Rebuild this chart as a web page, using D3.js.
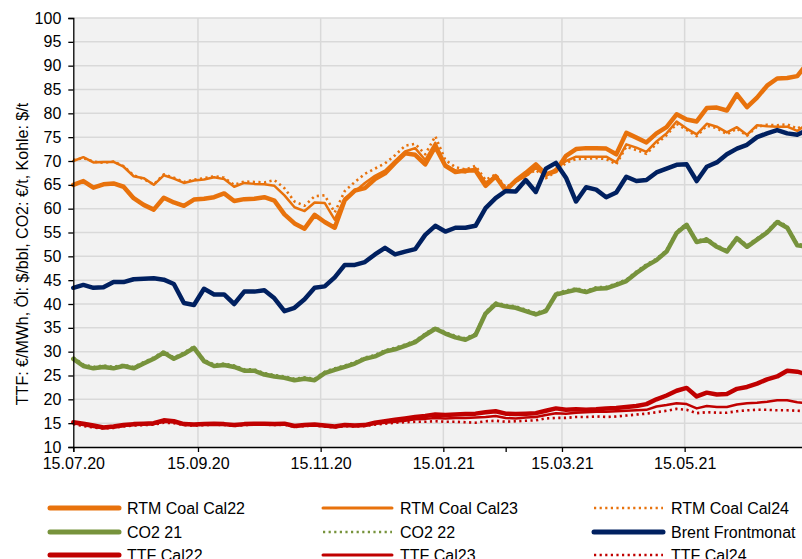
<!DOCTYPE html>
<html>
<head>
<meta charset="utf-8">
<script src="https://cdn.jsdelivr.net/npm/d3@7"></script>
<style>
  html, body { margin: 0; padding: 0; background: #fff; }
  svg { display: block; font-family: "Liberation Sans", Arial, sans-serif; }
</style>
</head>
<body>
<svg id="chart" width="802" height="559"></svg>
<script>
// ---- data (5-day grid starting 15.07.2020) ----
const startDate = new Date(2020, 6, 15);
const stepDays = 5;

const rtmCal22 = [65,65.8,64.4,65.1,65.3,64.6,62.2,60.8,59.8,62.3,61.3,60.6,61.9,62.1,62.4,63.2,61.6,62,62.1,62.4,61.7,58.8,56.9,55.8,58.7,57.2,56,61.8,63.8,64.3,66.2,67.4,69.6,71.6,71.3,69.3,73,69,67.7,68,68,64.8,66.8,63.8,65.9,67.5,69.3,67.2,67.9,71.1,72.5,72.7,72.7,72.6,71.4,75.9,74.9,73.9,75.8,77.1,79.8,78.7,78.3,81.1,81.2,80.6,84,81.3,83.3,85.8,87.3,87.4,87.8,90.5];
const rtmCal23 = [70,70.8,69.7,69.8,69.8,68.8,66.8,66.4,65,67,66.3,65.4,65.9,66.1,66.6,66.2,64.6,65.4,65.2,65.1,64.8,62.8,60.3,59.5,61.3,61.2,57.7,62.2,63.6,65.4,66.9,68,70,72,72.7,70.2,73.8,69.2,68,67.6,68.5,65.5,66.8,64.2,65.6,66.8,68.5,66.8,68.4,70,70.9,70.9,70.9,70.9,69.7,73.5,72.8,71.9,74.1,75.8,78.3,76.8,75.6,77.8,77.2,76,77.1,75.5,77.5,77.3,77.2,77.2,76.3,77.8];
const rtmCal24 = [70.2,70.6,69.9,69.6,69.9,68.9,67,66.2,65.1,67.2,66.5,65.6,66.1,66.4,66.8,66.5,65,65.7,65.6,65.5,66,64.3,61.5,60.6,62.6,62.8,59.2,63.7,65.6,67.3,68.4,69.5,71.2,73.2,73.6,71.4,75.2,70.2,68.7,68.2,69,66,67.2,64.5,65.7,66.9,68.1,66.4,67.8,69.6,70.4,70.5,70.6,70.4,69.3,73,72.3,71.5,73.6,75.4,77.8,76.5,75.2,77.4,76.9,75.6,76.8,75.3,77.2,77.6,77.5,77.7,76.8,78];
const co2_21 = [28.5,27,26.5,26.8,26.5,27,26.5,27.5,28.5,29.8,28.5,29.5,30.8,28,27,27.2,26.8,26,26,25.2,24.8,24.5,24,24.3,24,25.5,26.2,26.8,27.5,28.5,29,30,30.5,31.2,32,33.5,34.8,33.8,33,32.5,33.5,38,40,39.5,39.2,38.5,37.8,38.5,42,42.5,43,42.5,43.2,43.3,44,44.8,46.5,48,49.2,51,54.9,56.6,53,53.5,52,51,53.8,52,53.5,55,57.2,56,52.3,52];
const co2_22 = [28.8,27.3,26.8,27.1,26.8,27.3,26.8,27.8,28.8,30.1,28.8,29.8,31.1,28.3,27.3,27.5,27.1,26.3,26.3,25.5,25.1,24.8,24.3,24.6,24.3,25.8,26.5,27.1,27.8,28.8,29.3,30.3,30.8,31.5,32.3,33.8,35.1,34.1,33.3,32.8,33.8,38.3,40.3,39.8,39.5,38.8,38.1,38.8,42.3,42.8,43.3,42.8,43.5,43.6,44.3,45.1,46.8,48.3,49.5,51.3,55.2,56.9,53.3,53.8,52.3,51.3,54.1,52.3,53.8,55.3,57.5,56.3,52.6,52.3];
const brent = [43.4,44,43.4,43.5,44.6,44.6,45.2,45.3,45.4,45.1,44.2,40.2,39.8,43.2,42,42,40,42.6,42.6,42.9,41.2,38.5,39.2,41,43.4,43.7,45.6,48.2,48.2,48.8,50.4,51.8,50.4,51,51.5,54.5,56.4,55.2,56,56,56.4,60.1,62.2,63.7,63.6,66,63.5,68.4,69.6,66.5,61.5,64.5,64,62.4,63.4,66.7,65.8,66,67.6,68.4,69.2,69.3,65.8,68.8,69.7,71.4,72.6,73.4,75,75.8,76.5,75.8,75.5,76.5];
const ttfCal22 = [15.2,14.9,14.5,14.1,14.3,14.6,14.8,14.9,15,15.6,15.4,14.8,14.7,14.8,14.9,14.8,14.6,14.8,14.9,14.9,14.8,14.9,14.4,14.6,14.7,14.5,14.3,14.6,14.5,14.6,15.1,15.4,15.7,16,16.3,16.5,16.8,16.7,16.8,16.9,17,17.3,17.5,17,16.9,17,17.1,17.6,18.1,17.8,17.9,17.8,17.9,18.1,18.2,18.4,18.6,19,20,20.8,21.8,22.4,20.6,21.4,21,21.1,22.2,22.6,23.3,24.2,24.8,26,25.8,25.2];
const ttfCal23 = [15,14.6,14.2,14,14.1,14.4,14.6,14.7,14.8,15.3,15.2,14.7,14.6,14.7,14.8,14.7,14.5,14.7,14.8,14.8,14.7,14.8,14.3,14.5,14.6,14.4,14.2,14.5,14.4,14.5,14.9,15.1,15.3,15.5,15.8,15.9,16.1,16,16.1,16.1,16.2,16.3,16.5,16.1,16,16.2,16.3,16.7,17.1,17,17.2,17.3,17.4,17.4,17.5,17.6,17.7,17.8,18.5,18.8,19.2,19,18.1,18.6,18.4,18.4,18.9,19.2,19.3,19.5,19.8,19.8,19.4,19.2];
const ttfCal24 = [14.8,14.4,14.1,13.9,14,14.3,14.5,14.6,14.7,15.1,15,14.6,14.5,14.6,14.7,14.6,14.4,14.6,14.7,14.7,14.6,14.7,14.2,14.4,14.5,14.3,14.1,14.4,14.3,14.4,14.7,14.9,15.1,15.2,15.3,15.3,15.4,15.3,15.3,15.2,15.1,15.4,15.5,15.3,15.4,15.5,15.6,16,16.1,16.1,16.3,16.3,16.4,16.3,16.4,16.6,16.8,17,17.3,17.6,18,17.8,17.1,17.3,17.2,17.2,17.5,17.7,17.8,17.8,17.7,17.7,17.6,17.5];

const yTicks = d3.range(10, 101, 5);
const xLabelTicks = ["2020-07-15","2020-09-15","2020-11-15","2021-01-15","2021-03-15","2021-05-15"];
const xExtraTicks = ["2021-02-15"];
const yTitle = "TTF: €/MWh, Öl: $/bbl, CO2: €/t, Kohle: $/t";

const C_OR = "#E8720C", C_GR = "#77933C", C_NV = "#002060", C_RD = "#C00000";
const series = [
  {name:"RTM Coal Cal22", values: rtmCal22, color:C_OR, w:4.5, dash:null},
  {name:"RTM Coal Cal23", values: rtmCal23, color:C_OR, w:2.5, dash:null},
  {name:"RTM Coal Cal24", values: rtmCal24, color:C_OR, w:2.5, dash:"2.2,3.4"},
  {name:"CO2 21", values: co2_21, color:C_GR, w:4.5, dash:null},
  {name:"CO2 22", values: co2_22, color:C_GR, w:2.5, dash:"2.2,3.4"},
  {name:"Brent Frontmonat", values: brent, color:C_NV, w:4.5, dash:null},
  {name:"TTF Cal22", values: ttfCal22, color:C_RD, w:4.5, dash:null},
  {name:"TTF Cal23", values: ttfCal23, color:C_RD, w:2.5, dash:null},
  {name:"TTF Cal24", values: ttfCal24, color:C_RD, w:2.5, dash:"2.2,3.4"}
];
const drawOrder = [0,1,2,4,3,5,6,7,8];

// ---- layout ----
const FS = 16;
const svg = d3.select("#chart");
const parse = d3.timeParse("%Y-%m-%d");
const plotLeft = 73.3, plotTop = 18, plotBottom = 447;
const x = d3.scaleTime()
  .domain([parse("2020-07-15"), parse("2021-07-15")])
  .range([plotLeft, plotLeft + 365 * 2.011]);
const y = d3.scaleLinear().domain([10, 100]).range([plotBottom, plotTop]);

const dates = d3.range(rtmCal22.length).map(i => d3.timeDay.offset(startDate, i * stepDays));

svg.append("rect").attr("x", plotLeft).attr("y", plotTop)
  .attr("width", x.range()[1] - plotLeft).attr("height", plotBottom - plotTop)
  .attr("fill", "#f2f2f2");

svg.append("g").selectAll("line").data(yTicks.filter(d => d > 10)).join("line")
  .attr("x1", plotLeft).attr("x2", x.range()[1])
  .attr("y1", d => y(d)).attr("y2", d => y(d))
  .attr("stroke", "#d9d9d9").attr("stroke-width", 1.5);

svg.append("g").selectAll("line").data(xLabelTicks.slice(1).map(parse)).join("line")
  .attr("x1", d => x(d)).attr("x2", d => x(d))
  .attr("y1", plotTop).attr("y2", plotBottom)
  .attr("stroke", "#d9d9d9").attr("stroke-width", 1.5);

const line = d3.line().x((d, i) => x(dates[i])).y(d => y(d));
const gl = svg.append("g");
drawOrder.forEach(k => {
  const s = series[k];
  gl.append("path").datum(s.values)
    .attr("d", line)
    .attr("fill", "none")
    .attr("stroke", s.color)
    .attr("stroke-width", s.dash ? 2.6 : s.w)
    .attr("stroke-dasharray", s.dash)
    .attr("stroke-linejoin", "round")
    .attr("stroke-linecap", s.dash ? "butt" : "round");
});

const yAxis = d3.axisLeft(y).tickValues(yTicks).tickSize(5).tickPadding(7);
const gy = svg.append("g").attr("transform", `translate(${plotLeft},0)`).call(yAxis);
gy.select(".domain").attr("stroke", "#000").attr("stroke-width", 1.3);
gy.selectAll(".tick line").attr("stroke", "#000").attr("stroke-width", 1.3);
gy.selectAll("text").attr("font-size", FS).attr("fill", "#000")
  .attr("font-family", "'Liberation Sans', Arial, sans-serif");

const allXTicks = xLabelTicks.concat(xExtraTicks).map(parse);
const xAxis = d3.axisBottom(x).tickValues(allXTicks).tickSize(5).tickPadding(6)
  .tickFormat(d => xExtraTicks.includes(d3.timeFormat("%Y-%m-%d")(d)) ? "" : d3.timeFormat("%d.%m.%y")(d));
const gx = svg.append("g").attr("transform", `translate(0,${plotBottom})`).call(xAxis);
gx.select(".domain").attr("stroke", "#000").attr("stroke-width", 1.3);
gx.selectAll(".tick line").attr("stroke", "#000").attr("stroke-width", 1.3);
gx.selectAll("text").attr("font-size", FS).attr("fill", "#000")
  .attr("font-family", "'Liberation Sans', Arial, sans-serif");

svg.append("text")
  .attr("transform", `translate(22,254) rotate(-90)`)
  .attr("text-anchor", "middle").attr("dominant-baseline", "central")
  .attr("font-size", FS).attr("fill", "#000")
  .text(yTitle);

const colX = [50, 323, 594];
const rowY = [508, 532, 555];
const lg = svg.append("g");
series.forEach((s, i) => {
  const cx = colX[i % 3], cy = rowY[Math.floor(i / 3)];
  lg.append("line").attr("x1", cx).attr("x2", cx + 69).attr("y1", cy).attr("y2", cy)
    .attr("stroke", s.color)
    .attr("stroke-width", s.dash ? 2.4 : (s.w > 3 ? 5 : 3))
    .attr("stroke-dasharray", s.dash)
    .attr("stroke-linecap", s.dash ? "butt" : "round");
  lg.append("text").attr("x", cx + 77).attr("y", cy)
    .attr("dominant-baseline", "central")
    .attr("font-size", FS).attr("fill", "#000")
    .text(s.name);
});
</script>
</body>
</html>
